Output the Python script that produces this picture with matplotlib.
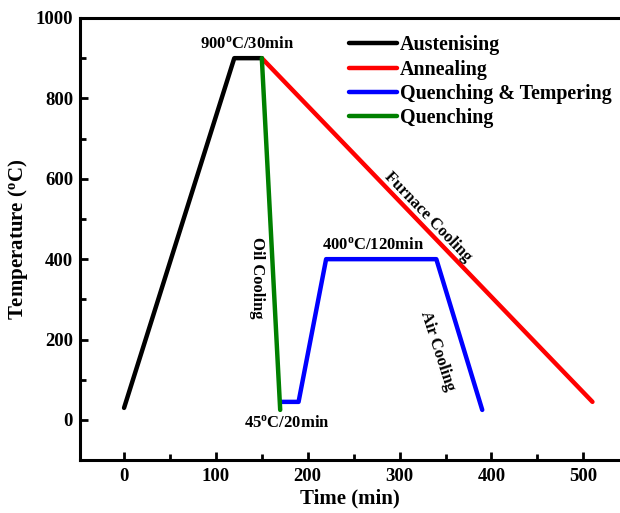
import matplotlib.pyplot as plt
from matplotlib.ticker import MultipleLocator

plt.rcParams['font.family'] = 'Liberation Serif'
plt.rcParams['font.weight'] = 'bold'
plt.rcParams['mathtext.fontset'] = 'custom'
plt.rcParams['mathtext.rm'] = 'Liberation Serif:bold'
plt.rcParams['mathtext.bf'] = 'Liberation Serif:bold'
plt.rcParams['mathtext.it'] = 'Liberation Serif:bold'

# process curves (time in min, temperature in C)
aus_t = [0, 120, 150]
aus_T = [30, 900, 900]
ann_t = [150, 510]
ann_T = [900, 45]
qt_t = [170, 190, 220, 340, 390]
qt_T = [45, 45, 400, 400, 25]
q_t = [150, 170]
q_T = [900, 25]

fig = plt.figure(figsize=(6.2, 5.13), dpi=100)
ax = fig.add_axes([0.129, 0.103, 0.871, 0.862])

ax.plot(aus_t, aus_T, color='black', lw=3.2, solid_capstyle='round', label='Austenising', zorder=3)
ax.plot(ann_t, ann_T, color='red', lw=3.2, solid_capstyle='round', label='Annealing')
ax.plot(qt_t, qt_T, color='blue', lw=3.2, solid_capstyle='round', label='Quenching & Tempering')
ax.plot(q_t, q_T, color='green', lw=3.2, solid_capstyle='round', label='Quenching', zorder=4)

ax.set_xlim(-48, 540)
ax.set_ylim(-100, 1000)
ax.xaxis.set_major_locator(MultipleLocator(100))
ax.xaxis.set_minor_locator(MultipleLocator(50))
ax.yaxis.set_major_locator(MultipleLocator(200))
ax.yaxis.set_minor_locator(MultipleLocator(100))
ax.tick_params(which='both', direction='in', width=2, labelsize=13.5)
ax.tick_params(which='major', length=6)
ax.tick_params(which='minor', length=4)
ax.tick_params(axis='x', pad=6)
ax.tick_params(axis='y', pad=5)
for s in ['left', 'bottom', 'top']:
    ax.spines[s].set_linewidth(2.2)
ax.spines['right'].set_linewidth(0.5)
ax.spines['right'].set_color('#cccccc')

ax.set_xlabel('Time (min)', fontsize=15, fontweight='bold', labelpad=2)
ax.set_ylabel('Temperature ($^{o}$C)', fontsize=15, fontweight='bold', labelpad=4)

ax.text(134, 935, '900$^{o}$C/30min', fontsize=12, ha='center', va='center')
ax.text(271, 434, '400$^{o}$C/120min', fontsize=12, ha='center', va='center')
ax.text(177, -7, '45$^{o}$C/20min', fontsize=12, ha='center', va='center')
ax.text(145, 354, 'Oil Cooling', fontsize=12, ha='center', va='center', rotation=-90)
ax.text(341, 172, 'Air Cooling', fontsize=12, ha='center', va='center', rotation=-72,
        rotation_mode='anchor')
ax.text(331, 504, 'Furnace Cooling', fontsize=12, ha='center', va='center', rotation=-46,
        rotation_mode='anchor')

ax.legend(loc='upper left', bbox_to_anchor=(0.49, 0.97), frameon=False, fontsize=14.4,
          handlelength=2.4, handletextpad=0.15, labelspacing=0.22, borderaxespad=0.0,
          borderpad=0.2)

fig.savefig('out.png', dpi=100)
